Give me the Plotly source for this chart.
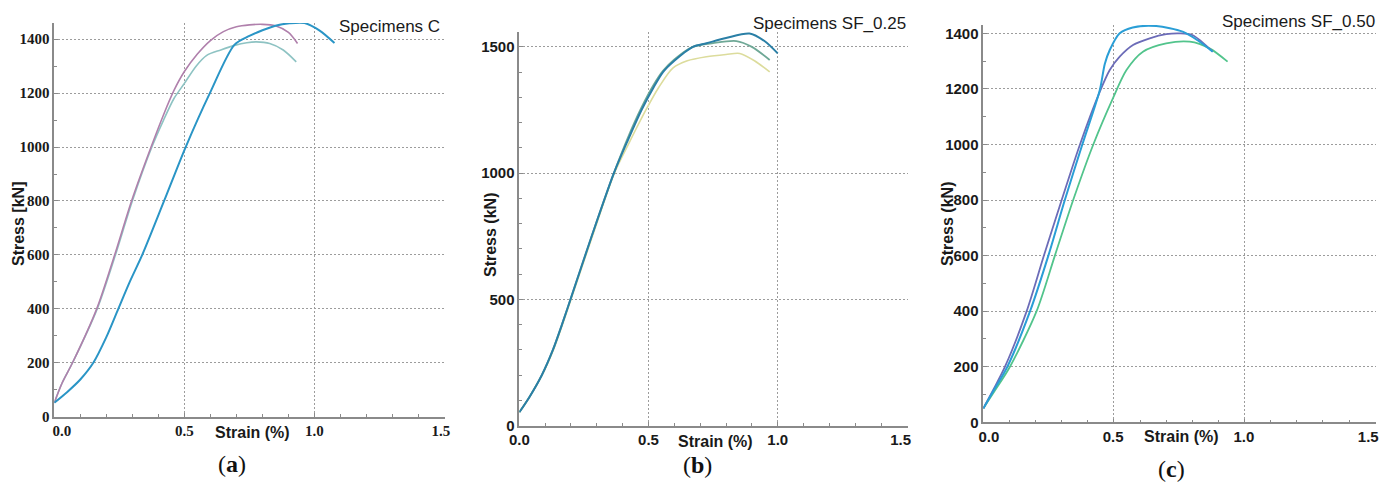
import plotly.graph_objects as go

# ---------------- data ----------------
# Panel (a): Specimens C
a_purple_strain = [0, 0.03, 0.07, 0.163, 0.232, 0.297, 0.372, 0.42, 0.46, 0.50, 0.55, 0.60, 0.65, 0.70, 0.75, 0.80, 0.85, 0.90, 0.935]
a_purple_stress = [52, 125, 200, 400, 600, 800, 1000, 1120, 1210, 1280, 1345, 1395, 1428, 1446, 1453, 1455, 1450, 1425, 1384]
a_teal_strain = [0, 0.03, 0.07, 0.165, 0.235, 0.30, 0.375, 0.42, 0.46, 0.50, 0.545, 0.586, 0.64, 0.693, 0.74, 0.777, 0.828, 0.88, 0.93]
a_teal_stress = [52, 125, 200, 400, 600, 800, 1000, 1100, 1180, 1236, 1300, 1340, 1360, 1377, 1387, 1390, 1384, 1360, 1316]
a_blue_strain = [0, 0.05, 0.10, 0.15, 0.20, 0.246, 0.29, 0.338, 0.422, 0.505, 0.598, 0.693, 0.75, 0.80, 0.85, 0.904, 0.962, 1.02, 1.077]
a_blue_stress = [52, 92, 138, 200, 295, 400, 500, 600, 800, 1000, 1200, 1380, 1412, 1433, 1450, 1459, 1460, 1432, 1386]

# Panel (b): Specimens SF_0.25
b_blue_strain = [0, 0.04, 0.087, 0.13, 0.165, 0.198, 0.28, 0.366, 0.42, 0.473, 0.52, 0.556, 0.60, 0.672, 0.724, 0.80, 0.891, 0.95, 1.0]
b_blue_stress = [53, 115, 200, 300, 400, 500, 750, 1000, 1130, 1250, 1340, 1400, 1445, 1500, 1514, 1535, 1553, 1522, 1474]
b_green_strain = [0, 0.04, 0.087, 0.13, 0.165, 0.198, 0.28, 0.366, 0.42, 0.473, 0.52, 0.556, 0.60, 0.671, 0.75, 0.84, 0.90, 0.969]
b_green_stress = [53, 115, 200, 300, 400, 500, 750, 1000, 1140, 1260, 1350, 1405, 1450, 1500, 1515, 1523, 1500, 1448]
b_yellow_strain = [0, 0.04, 0.088, 0.132, 0.167, 0.200, 0.283, 0.368, 0.425, 0.49, 0.54, 0.594, 0.65, 0.724, 0.80, 0.853, 0.91, 0.969]
b_yellow_stress = [53, 115, 200, 300, 400, 500, 750, 1000, 1120, 1250, 1340, 1416, 1445, 1461, 1470, 1474, 1445, 1401]

# Panel (c): Specimens SF_0.50
c_blue_strain = [0, 0.04, 0.092, 0.179, 0.249, 0.312, 0.379, 0.446, 0.465, 0.484, 0.522, 0.572, 0.662, 0.763, 0.82, 0.878]
c_blue_stress = [50, 115, 200, 400, 600, 800, 1000, 1196, 1290, 1340, 1400, 1421, 1426, 1406, 1375, 1334]
c_purple_strain = [0, 0.04, 0.083, 0.166, 0.232, 0.30, 0.37, 0.446, 0.484, 0.522, 0.573, 0.637, 0.70, 0.751, 0.80, 0.878]
c_purple_stress = [50, 120, 200, 400, 600, 800, 1000, 1190, 1268, 1316, 1358, 1382, 1397, 1400, 1394, 1334]
c_green_strain = [0, 0.045, 0.102, 0.204, 0.274, 0.344, 0.421, 0.496, 0.548, 0.611, 0.70, 0.79, 0.866, 0.935]
c_green_stress = [50, 115, 200, 400, 600, 800, 1000, 1166, 1268, 1334, 1364, 1370, 1346, 1298]

x_ticks = [0, 0.5, 1.0, 1.5]
x_ticklabels = ["0.0", "0.5", "1.0", "1.5"]
titles = ["Specimens C", "Specimens SF_0.25", "Specimens SF_0.50"]
y_titles = ["Stress [kN]", "Stress (kN)", "Stress (kN)"]
captions = ["a", "b", "c"]

# ---------------- figure ----------------
W, H = 1381, 484
fig = go.Figure()

def add(x, y, color, width, ax):
    fig.add_trace(go.Scatter(x=x, y=y, mode="lines", xaxis="x" + ax, yaxis="y" + ax,
                             line=dict(color=color, width=width, shape="spline", smoothing=0.8),
                             showlegend=False, hoverinfo="skip"))

add(a_teal_strain, a_teal_stress, "#8ec3c3", 1.6, "")
add(a_purple_strain, a_purple_stress, "#b080ac", 1.6, "")
add(a_blue_strain, a_blue_stress, "#2a95c6", 2.0, "")

add(b_yellow_strain, b_yellow_stress, "#dcdc9c", 1.6, "2")
add(b_green_strain, b_green_stress, "#6fa896", 1.8, "2")
add(b_blue_strain, b_blue_stress, "#2a7fa6", 2.0, "2")

add(c_green_strain, c_green_stress, "#52c48c", 1.8, "3")
add(c_purple_strain, c_purple_stress, "#6c6cb8", 1.8, "3")
add(c_blue_strain, c_blue_stress, "#2a9ed6", 2.0, "3")

# domains in pixels: (x0, x1, y_zero_px, y_top_px, ymax, ydtick, tick font,
#                     label shift, nbsp before each x label, nbsp after each x label)
panels = [
    (54.3, 445.3, 416.7, 23.0, 1460, 200, "Liberation Serif", 0, [4, 0, 0, 0], [0, 0, 0, 2]),
    (519.3, 907.7, 425.7, 31.7, 1560, 500, "Liberation Sans", 0, [0, 0, 0, 0], [0, 0, 0, 3]),
    (983.3, 1376.0, 422.3, 25.0, 1430, 200, "Liberation Sans", -7, [6, 3, 3, 0], [0, 0, 0, 0]),
]

NB = "\u00a0"

layout = dict(width=W, height=H, margin=dict(l=0, r=0, t=0, b=0, autoexpand=False),
              paper_bgcolor="white", plot_bgcolor="white")

GRID = dict(showgrid=True, gridcolor="#9c9c9c", griddash="2px,2px", gridwidth=1)

for i, (x0, x1, yz, yt, ymax, ydt, tfont, shift, pre, post) in enumerate(panels):
    sfx = "" if i == 0 else str(i + 1)
    tickfont = dict(family=tfont, size=15, color="#1a1a1a", weight="bold")
    ttext = [NB * p + lab + NB * q for lab, p, q in zip(x_ticklabels, pre, post)]
    layout["xaxis" + sfx] = dict(
        domain=[x0 / W, x1 / W], range=[0, 1.503], anchor="y" + sfx, automargin=False,
        tickmode="array", tickvals=x_ticks, ticktext=ttext, ticklabeloverflow="allow",
        ticklabelshift=shift,
        showline=True, linecolor="#8a8a8a", linewidth=1.5,
        ticks="inside", ticklen=4, tickcolor="#8a8a8a",
        minor=dict(dtick=0.1, ticks="inside", ticklen=3, tickcolor="#8a8a8a", showgrid=False),
        zeroline=False, tickfont=tickfont, fixedrange=True, **GRID)
    layout["yaxis" + sfx] = dict(
        domain=[(H - yz) / H, (H - yt) / H], range=[0, ymax], anchor="x" + sfx, automargin=False,
        dtick=ydt, tick0=0,
        showline=True, linecolor="#8a8a8a", linewidth=1.5,
        ticks="inside", ticklen=4, tickcolor="#8a8a8a",
        minor=dict(dtick=100, ticks="inside", ticklen=3, tickcolor="#8a8a8a", showgrid=False),
        zeroline=False, tickfont=tickfont, fixedrange=True, **GRID)

fig.update_layout(**layout)

ann = []
title_pos = [(442, 26), (908, 23), (1377, 22)]
ytitle_pos = [(18, 224), (490, 235), (947, 224)]
xtitle_pos = [(252, 432), (715, 441), (1181, 436)]
cap_pos = [(232, 464), (697, 465), (1171, 469)]
for i in range(3):
    tx, ty = title_pos[i]
    ann.append(dict(text=titles[i], x=tx / W, y=1 - ty / H, xref="paper", yref="paper",
                    xanchor="right", yanchor="middle", showarrow=False,
                    font=dict(family="Liberation Sans", size=17, color="#1a1a1a")))
    yx, yy = ytitle_pos[i]
    ann.append(dict(text=y_titles[i], x=yx / W, y=1 - yy / H, xref="paper", yref="paper",
                    xanchor="center", yanchor="middle", textangle=-90, showarrow=False,
                    font=dict(family="Liberation Sans", size=16, color="#1a1a1a", weight="bold")))
    xx, xy = xtitle_pos[i]
    ann.append(dict(text="Strain (%)", x=xx / W, y=1 - xy / H, xref="paper", yref="paper",
                    xanchor="center", yanchor="middle", showarrow=False,
                    font=dict(family="Liberation Sans", size=16, color="#1a1a1a", weight="bold")))
    cx, cy = cap_pos[i]
    ann.append(dict(text="(<b>" + captions[i] + "</b>)", x=cx / W, y=1 - cy / H, xref="paper", yref="paper",
                    xanchor="center", yanchor="middle", showarrow=False,
                    font=dict(family="Liberation Serif", size=24, color="#111111")))
fig.update_layout(annotations=ann)

fig.write_html("out.html", config={"displayModeBar": False},
               post_script="document.body.style.margin='0';document.body.style.overflow='hidden';")
